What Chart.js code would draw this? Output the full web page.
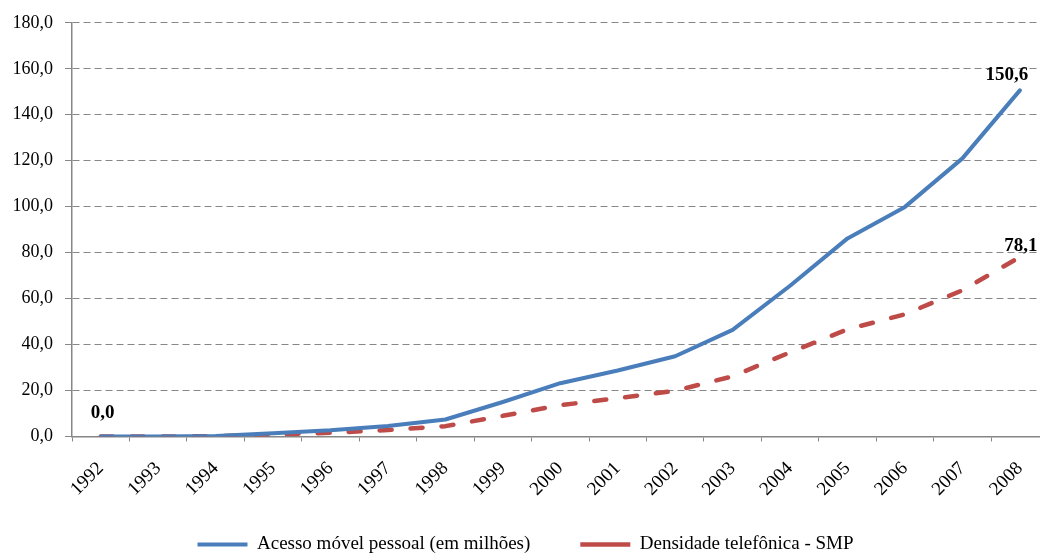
<!DOCTYPE html>
<html lang="pt-BR">
<head>
<meta charset="utf-8">
<title>Acesso móvel pessoal e densidade telefônica (1992–2008)</title>
<script src="https://cdn.jsdelivr.net/npm/chart.js@4/dist/chart.umd.min.js"></script>
<style>
  html, body { margin: 0; padding: 0; background: #fff; overflow: hidden; }
  #wrap { position: relative; width: 1052px; height: 564px; }
</style>
</head>
<body>
<div id="wrap"><canvas id="chart" width="1052" height="564"></canvas></div>
<script>
// Anos da série histórica
const years = ['1992', '1993', '1994', '1995', '1996', '1997', '1998', '1999', '2000',
               '2001', '2002', '2003', '2004', '2005', '2006', '2007', '2008'];

// Acessos do Serviço Móvel Pessoal (milhões)
const acessoMovel = [0.0, 0.03, 0.19, 1.4, 2.7, 4.6, 7.4, 15.0, 23.2,
                     28.7, 34.9, 46.4, 65.6, 86.2, 99.9, 121.0, 150.6];

// Densidade telefônica do SMP (acessos por 100 habitantes)
const densidade = [0.0, 0.02, 0.1, 0.9, 1.6, 2.8, 4.5, 9.0, 13.6,
                   16.7, 19.9, 26.2, 36.6, 46.6, 53.2, 63.6, 78.1];

// Marcas do eixo vertical
const yTicks = [0, 20, 40, 60, 80, 100, 120, 140, 160, 180];

const seriesNames = ['Acesso móvel pessoal (em milhões)', 'Densidade telefônica - SMP'];

const fmt = v => v.toFixed(1).replace('.', ',');
const SERIF = "'Liberation Serif', 'Times New Roman', serif";

// Rótulos de valor: [dataset, índice, deslocamento x, deslocamento y]
const valueLabels = [
  [0, 0, 2, -23],
  [0, 16, -13, -15],
  [1, 16, 1, -11]
];

const valueLabelPlugin = {
  id: 'valueLabels',
  afterDatasetsDraw(chart) {
    const ctx = chart.ctx;
    ctx.save();
    ctx.font = "bold 19px " + SERIF;
    ctx.fillStyle = '#000';
    ctx.textAlign = 'center';
    ctx.textBaseline = 'middle';
    valueLabels.forEach(([ds, i, dx, dy]) => {
      const pt = chart.getDatasetMeta(ds).data[i];
      const v = chart.data.datasets[ds].data[i];
      ctx.fillText(fmt(v), pt.x + dx, pt.y + dy);
    });
    ctx.restore();
  }
};

new Chart(document.getElementById('chart'), {
  type: 'line',
  data: {
    labels: years,
    datasets: [
      {
        label: seriesNames[0],
        data: acessoMovel,
        borderColor: '#4a7ebb',
        backgroundColor: '#4a7ebb',
        borderWidth: 4,
        borderCapStyle: 'round',
        borderJoinStyle: 'round',
        pointRadius: 0,
        pointHoverRadius: 0,
        tension: 0,
        fill: false
      },
      {
        label: seriesNames[1],
        data: densidade,
        borderColor: '#be4b48',
        backgroundColor: '#be4b48',
        borderWidth: 4.5,
        borderDash: [12, 19],
        borderCapStyle: 'round',
        borderJoinStyle: 'round',
        pointRadius: 0,
        pointHoverRadius: 0,
        tension: 0,
        fill: false
      }
    ]
  },
  options: {
    responsive: false,
    animation: false,
    events: [],
    layout: { padding: { top: 19.5, right: 1, left: 0, bottom: 0 } },
    plugins: {
      tooltip: { enabled: false },
      legend: {
        position: 'bottom',
        labels: {
          usePointStyle: true,
          pointStyle: 'line',
          pointStyleWidth: 50,
          padding: 50,
          color: '#000',
          font: { family: SERIF, size: 19 }
        }
      }
    },
    scales: {
      x: {
        offset: true,
        afterFit: s => {
          s.height = 48.5;
          // os anos girados ultrapassam a caixa do eixo; não recortar
          s._computeLabelArea = () => undefined;
        },
        grid: {
          offset: true,
          drawOnChartArea: false,
          drawTicks: true,
          tickLength: 5,
          color: '#868686',
          lineWidth: 1
        },
        border: { display: true, color: '#868686', width: 1.5 },
        ticks: {
          autoSkip: false,
          maxRotation: 45,
          minRotation: 45,
          padding: 16,
          color: '#000',
          font: { family: SERIF, size: 19 }
        }
      },
      y: {
        min: 0,
        max: 180,
        afterFit: s => { s.width = 72; },
        afterBuildTicks: s => { s.ticks = yTicks.map(v => ({ value: v })); },
        grid: {
          color: '#878787',
          lineWidth: 1,
          tickLength: 7,
          tickBorderDash: [],
          tickColor: '#878787'
        },
        border: { display: true, color: '#868686', width: 1.5, dash: [7, 4] },
        ticks: {
          padding: 12,
          color: '#000',
          font: { family: SERIF, size: 18 },
          callback: v => fmt(v)
        }
      }
    }
  },
  plugins: [valueLabelPlugin]
});
</script>
</body>
</html>
